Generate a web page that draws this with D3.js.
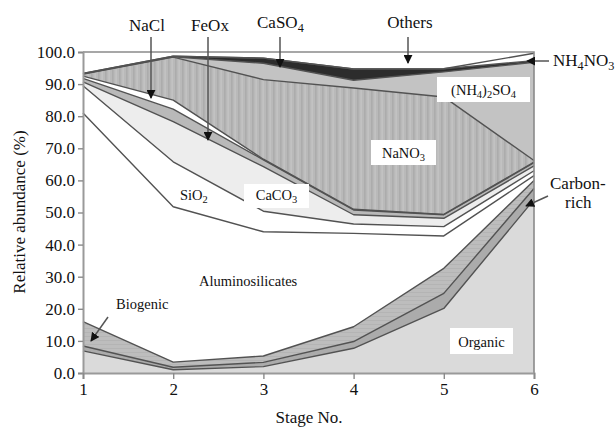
<!DOCTYPE html>
<html>
<head>
<meta charset="utf-8">
<script src="https://cdn.jsdelivr.net/npm/d3@7"></script>
<style>
  html, body { margin: 0; padding: 0; background: #fff; }
  svg { display: block; }
  svg text { font-family: "Liberation Serif", "Times New Roman", serif; }
</style>
</head>
<body>
<svg id="chart" width="616" height="427"></svg>
<script>
// Stage numbers along the x axis
const stages = [1, 2, 3, 4, 5, 6];
const yTicks = [0, 10, 20, 30, 40, 50, 60, 70, 80, 90, 100];

// Relative abundance (%) of each particle class at each stage, bottom of the stack first
const organic      = [6.9, 1.0, 2.0, 7.7, 20.1, 54.0];
const carbonRich   = [1.5, 0.8, 1.3, 2.1, 4.7, 3.5];
const biogenic     = [7.6, 1.6, 2.0, 4.6, 7.8, 2.5];
const alumino      = [65.0, 48.4, 38.7, 29.1, 10.1, 1.5];
const sio2         = [8.5, 14.0, 6.4, 2.9, 2.9, 1.5];
const caco3        = [1.2, 12.5, 13.9, 2.9, 2.6, 1.5];
const feox         = [1.1, 3.9, 2.1, 1.5, 1.1, 1.0];
const nacl         = [0.7, 2.8, 0.2, 0.2, 0.1, 0.2];
const nano3        = [0.6, 13.4, 24.8, 37.8, 36.6, 0.5];
const nh4so4       = [0.1, 0.1, 5.1, 2.4, 7.8, 30.6];
const caso4        = [0.1, 0.2, 1.6, 3.5, 1.0, 0.5];
const nh4no3       = [0.0, 0.0, 0.0, 0.0, 0.0, 2.3];
const others       = [6.7, 1.3, 1.9, 5.3, 5.2, 0.4];

const layerKeys = ["Organic", "Carbon-rich", "Biogenic", "Aluminosilicates", "SiO2", "CaCO3",
                   "FeOx", "NaCl", "NaNO3", "(NH4)2SO4", "CaSO4", "NH4NO3", "Others"];
const layerValues = [organic, carbonRich, biogenic, alumino, sio2, caco3,
                     feox, nacl, nano3, nh4so4, caso4, nh4no3, others];

const rows = stages.map((s, i) => {
  const r = { stage: s };
  layerKeys.forEach((k, j) => { r[k] = layerValues[j][i]; });
  return r;
});

const fills = {
  "Organic": "#dadada",
  "Carbon-rich": "#ababab",
  "Biogenic": "url(#hstripe)",
  "Aluminosilicates": "#ffffff",
  "SiO2": "#ffffff",
  "CaCO3": "#ededed",
  "FeOx": "#b9b9b9",
  "NaCl": "#ffffff",
  "NaNO3": "url(#vstripe)",
  "(NH4)2SO4": "#c3c3c3",
  "CaSO4": "#2c2c2c",
  "NH4NO3": "#ffffff",
  "Others": "#ffffff"
};

const SERIF = "'Liberation Serif', 'Times New Roman', serif";

const svg = d3.select("#chart");
const defs = svg.append("defs");

// vertical stripes for the nitrate layer
const vp = defs.append("pattern").attr("id", "vstripe").attr("patternUnits", "userSpaceOnUse")
  .attr("width", 7).attr("height", 10);
vp.append("rect").attr("width", 7).attr("height", 10).attr("fill", "#b9b9b9");
vp.append("rect").attr("x", 0).attr("width", 1.6).attr("height", 10).attr("fill", "#acacac");
vp.append("rect").attr("x", 3.5).attr("width", 1.2).attr("height", 10).attr("fill", "#c6c6c6");

// faint striation for the biogenic layer
const hp = defs.append("pattern").attr("id", "hstripe").attr("patternUnits", "userSpaceOnUse")
  .attr("width", 6).attr("height", 4);
hp.append("rect").attr("width", 6).attr("height", 4).attr("fill", "#bdbdbd");
hp.append("rect").attr("y", 0).attr("width", 6).attr("height", 1).attr("fill", "#b4b4b4");

// arrowhead
defs.append("marker").attr("id", "arrow").attr("viewBox", "0 0 10 10")
  .attr("refX", 9).attr("refY", 5).attr("markerWidth", 9).attr("markerHeight", 9)
  .attr("markerUnits", "userSpaceOnUse").attr("orient", "auto")
  .append("path").attr("d", "M0,0 L10,5 L0,10 Z").attr("fill", "#111");

const x = d3.scaleLinear().domain([1, 6]).range([83, 534]);
const y = d3.scaleLinear().domain([0, 100]).range([373, 52]);

const stack = d3.stack().keys(layerKeys);
const series = stack(rows);

const area = d3.area()
  .x(d => x(d.data.stage))
  .y0(d => y(d[0]))
  .y1(d => y(d[1]));

const topLine = d3.line()
  .x(d => x(d.data.stage))
  .y(d => y(d[1]));

const plot = svg.append("g");
plot.selectAll("path.layer")
  .data(series)
  .join("path")
  .attr("class", "layer")
  .attr("d", area)
  .attr("fill", d => fills[d.key])
  .attr("stroke", "none");

// boundary lines between the layers
plot.selectAll("path.edge")
  .data(series.filter(s => s.key !== "Others"))
  .join("path")
  .attr("class", "edge")
  .attr("d", topLine)
  .attr("fill", "none")
  .attr("stroke", "#525252")
  .attr("stroke-width", 1.4)
  .attr("stroke-linejoin", "round");

// frame: top and right edges
svg.append("path")
  .attr("d", `M${x(1)},${y(100)} H${x(6)} V${y(0)}`)
  .attr("fill", "none").attr("stroke", "#8a8a8a").attr("stroke-width", 1.6);

// axes
const yAxis = svg.append("g").attr("transform", `translate(${x(1)},0)`)
  .call(d3.axisLeft(y).tickValues(yTicks).tickFormat(d => d.toFixed(1)).tickSize(5).tickPadding(3));
const xAxis = svg.append("g").attr("transform", `translate(0,${y(0)})`)
  .call(d3.axisBottom(x).tickValues(stages).tickFormat(d3.format("d")).tickSize(6).tickPadding(4));

[yAxis, xAxis].forEach(g => {
  g.attr("font-family", null);
  g.select(".domain").attr("stroke", "#9a9a9a").attr("stroke-width", 2);
  g.selectAll(".tick line").attr("stroke", "#8a8a8a").attr("stroke-width", 1.4);
  g.selectAll(".tick text").attr("fill", "#111").attr("font-size", 17)
    .style("font-family", SERIF);
});

// axis titles
svg.append("text")
  .attr("transform", "translate(25,212) rotate(-90)")
  .attr("text-anchor", "middle").attr("font-size", 17).attr("fill", "#111")
  .style("font-family", SERIF)
  .text("Relative abundance (%)");
svg.append("text")
  .attr("x", 309).attr("y", 423)
  .attr("text-anchor", "middle").attr("font-size", 17).attr("fill", "#111")
  .style("font-family", SERIF)
  .text("Stage No.");

// text with chemical subscripts: parts are [string, isSubscript]
function chem(g, parts, px, py, size, anchor) {
  const t = g.append("text").attr("x", px).attr("y", py)
    .attr("font-size", size).attr("fill", "#111").attr("text-anchor", anchor || "start")
    .style("font-family", SERIF);
  let shifted = false;
  parts.forEach(([s, sub]) => {
    const ts = t.append("tspan").text(s);
    if (sub && !shifted) { ts.attr("font-size", size * 0.72).attr("dy", size * 0.22); shifted = true; }
    else if (sub) { ts.attr("font-size", size * 0.72); }
    else if (shifted) { ts.attr("dy", -size * 0.22); shifted = false; }
  });
  return t;
}

const ann = svg.append("g");

function arrow(x1, y1, x2, y2) {
  ann.append("line").attr("x1", x1).attr("y1", y1).attr("x2", x2).attr("y2", y2)
    .attr("stroke", "#555").attr("stroke-width", 1.5).attr("marker-end", "url(#arrow)");
}

// callouts above and beside the plot
chem(ann, [["NaCl", false]], 147, 31, 17, "middle");
arrow(151, 37, 151, 98);
chem(ann, [["FeOx", false]], 210, 31, 17, "middle");
arrow(208, 37, 208, 140);
chem(ann, [["CaSO", false], ["4", true]], 257, 28, 17);
arrow(280, 37, 280, 67);
chem(ann, [["Others", false]], 410, 28, 17, "middle");
arrow(408, 37, 408, 63);
chem(ann, [["NH", false], ["4", true], ["NO", false], ["3", true]], 553, 66, 17);
arrow(549, 61, 527, 61);
chem(ann, [["Carbon-", false]], 550, 189, 17);
chem(ann, [["rich", false]], 565, 208, 17);
arrow(548, 196, 526, 206);
chem(ann, [["Biogenic", false]], 116, 309, 14.5);
arrow(108, 317, 91, 341);
chem(ann, [["Aluminosilicates", false]], 199, 286, 14.5);
chem(ann, [["SiO", false], ["2", true]], 180, 200, 14.5);

// boxed labels inside the areas
function boxed(parts, bx, by, bw, bh, tx, ty) {
  ann.append("rect").attr("x", bx).attr("y", by).attr("width", bw).attr("height", bh).attr("fill", "#fff");
  chem(ann, parts, tx, ty, 14.5, "middle");
}
boxed([["CaCO", false], ["3", true]], 244, 184, 65, 24, 276.5, 200);
boxed([["NaNO", false], ["3", true]], 371, 140, 65, 25, 403.5, 158);
boxed([["(NH", false], ["4", true], [")", false], ["2", true], ["SO", false], ["4", true]], 437, 77, 93, 25, 483.5, 95);
boxed([["Organic", false]], 450, 328, 63, 26, 481.5, 347);
</script>
</body>
</html>
